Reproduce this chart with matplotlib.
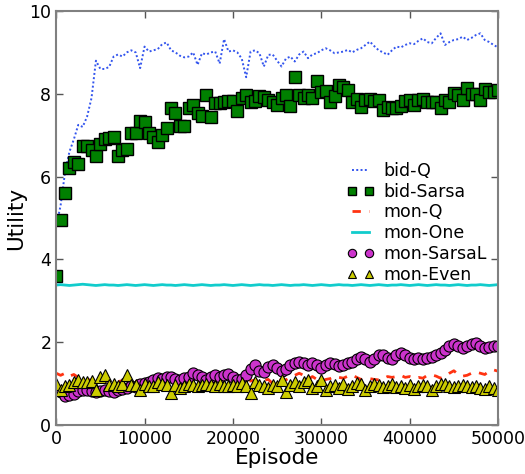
import numpy as np
import matplotlib
matplotlib.use("Agg")
import matplotlib.pyplot as plt

plt.rcParams['font.family'] = ['DejaVu Sans']

episodes = list(range(0, 50001, 500))

bid_q = [4.8, 5.3, 6.1, 6.6, 6.9, 7.25, 7.2, 7.45, 7.9, 8.8,
         8.6, 8.6, 8.65, 8.9, 8.95, 8.9, 9.0, 9.05, 9.0, 8.62,
         9.14, 9.02, 9.05, 9.08, 9.2, 9.24, 9.05, 9.0, 8.92, 8.88,
         8.9, 9.0, 8.7, 8.98, 8.95, 9.0, 9.02, 8.73, 9.32, 9.02,
         9.05, 9.0, 8.85, 8.4, 9.02, 9.05, 8.98, 8.66, 8.94, 8.95,
         8.8, 8.66, 8.85, 8.9, 8.78, 8.95, 9.02, 8.86, 8.95, 8.98,
         9.05, 9.1, 9.05, 8.98, 9.0, 9.02, 9.06, 9.0, 9.06, 9.1,
         9.18, 9.26, 9.15, 9.05, 9.0, 8.94, 9.05, 9.14, 9.12, 9.18,
         9.22, 9.2, 9.28, 9.34, 9.25, 9.22, 9.35, 9.46, 9.18, 9.25,
         9.3, 9.32, 9.38, 9.3, 9.35, 9.42, 9.46, 9.3, 9.25, 9.18, 9.12]

bid_sarsa = [3.6, 4.95, 5.61, 6.2, 6.36, 6.3, 6.74, 6.74, 6.64, 6.5,
             6.79, 6.9, 6.93, 6.96, 6.5, 6.64, 6.67, 7.06, 7.05, 7.35,
             7.32, 7.06, 6.95, 6.84, 7.01, 7.17, 7.66, 7.53, 7.23, 7.23,
             7.65, 7.73, 7.53, 7.47, 7.97, 7.45, 7.78, 7.78, 7.81, 7.83,
             7.83, 7.59, 7.89, 7.97, 7.81, 7.82, 7.95, 7.93, 7.85, 7.81,
             7.72, 7.91, 7.96, 7.71, 8.41, 7.97, 7.91, 7.97, 7.89, 8.32,
             8.05, 8.07, 7.79, 7.95, 8.21, 8.17, 8.09, 7.81, 7.87, 7.69,
             7.85, 7.87, 7.83, 7.85, 7.62, 7.67, 7.66, 7.65, 7.71, 7.82,
             7.85, 7.73, 7.85, 7.87, 7.81, 7.81, 7.79, 7.66, 7.85, 7.79,
             8.03, 7.97, 7.85, 8.15, 7.99, 7.99, 7.86, 8.12, 8.05, 8.05, 8.1]

mon_q = [1.25, 1.2, 1.25, 1.18, 1.22, 1.15, 1.12, 1.1, 1.08, 1.1,
         1.05, 1.07, 1.06, 1.08, 1.05, 1.07, 1.09, 1.06, 1.05, 1.08,
         1.07, 1.05, 1.08, 1.06, 1.09, 1.07, 1.05, 1.08, 1.06, 1.07,
         1.05, 1.08, 1.06, 1.09, 1.07, 1.05, 1.08, 1.06, 1.07, 1.05,
         1.06, 1.05, 1.08, 1.07, 1.06, 1.09, 1.05, 1.08, 1.1, 1.0,
         1.05, 1.1, 1.09, 1.15, 1.2, 1.25, 1.2, 1.1, 1.17, 1.1,
         1.05, 1.1, 1.12, 1.17, 1.15, 1.13, 1.18, 1.21, 1.15, 1.1,
         1.13, 1.12, 1.1, 1.09, 1.12, 1.17, 1.15, 1.17, 1.2, 1.15,
         1.17, 1.13, 1.15, 1.13, 1.2, 1.21, 1.18, 1.13, 1.17, 1.25,
         1.31, 1.22, 1.18, 1.2, 1.25, 1.28, 1.25, 1.22, 1.3, 1.33, 1.3]

mon_one = [3.38, 3.39, 3.38, 3.37, 3.38, 3.39, 3.40, 3.39, 3.38, 3.37,
           3.38, 3.39, 3.38, 3.38, 3.37, 3.38, 3.39, 3.38, 3.37, 3.38,
           3.39, 3.38, 3.37, 3.38, 3.39, 3.38, 3.38, 3.37, 3.38, 3.39,
           3.38, 3.37, 3.38, 3.39, 3.38, 3.37, 3.38, 3.38, 3.39, 3.38,
           3.37, 3.38, 3.39, 3.38, 3.37, 3.38, 3.39, 3.38, 3.38, 3.37,
           3.38, 3.39, 3.38, 3.37, 3.38, 3.38, 3.39, 3.38, 3.37, 3.38,
           3.39, 3.38, 3.37, 3.38, 3.39, 3.38, 3.38, 3.37, 3.38, 3.39,
           3.38, 3.37, 3.38, 3.39, 3.38, 3.37, 3.38, 3.38, 3.39, 3.38,
           3.37, 3.38, 3.39, 3.38, 3.37, 3.38, 3.39, 3.38, 3.38, 3.37,
           3.38, 3.39, 3.38, 3.37, 3.38, 3.38, 3.39, 3.38, 3.37, 3.38, 3.39]

mon_sarsal = [0.85, 0.8, 0.7, 0.72, 0.76, 0.82, 0.85, 0.85, 0.83, 0.8,
              0.82, 0.85, 0.82, 0.8, 0.85, 0.88, 0.9, 0.93, 0.92, 0.98,
              1.02, 1.05, 1.08, 1.13, 1.1, 1.15, 1.17, 1.12, 1.09, 1.13,
              1.17, 1.25, 1.2, 1.15, 1.09, 1.15, 1.2, 1.17, 1.2, 1.23,
              1.15, 1.09, 1.1, 1.2, 1.35, 1.45, 1.3, 1.28, 1.4, 1.45,
              1.38, 1.3, 1.35, 1.45, 1.5, 1.53, 1.5, 1.45, 1.5, 1.45,
              1.38, 1.45, 1.5, 1.48, 1.43, 1.45, 1.5, 1.53, 1.6, 1.65,
              1.6, 1.53, 1.6, 1.69, 1.68, 1.62, 1.6, 1.68, 1.73, 1.68,
              1.62, 1.6, 1.62, 1.6, 1.63, 1.65, 1.7, 1.73, 1.81, 1.9,
              1.95, 1.9, 1.85, 1.9, 1.96, 1.97, 1.9, 1.85, 1.88, 1.91, 1.9]

mon_even = [1.0, 0.85, 0.95, 0.97, 1.05, 1.09, 1.05, 1.05, 1.07, 0.85,
            1.17, 1.2, 0.97, 1.0, 0.93, 1.0, 1.2, 0.97, 0.97, 0.85,
            1.0, 0.93, 0.95, 1.05, 1.0, 0.97, 0.77, 0.97, 0.9, 0.95,
            1.0, 0.97, 0.95, 0.97, 0.98, 0.97, 0.95, 1.0, 0.93, 0.95,
            0.97, 0.95, 1.02, 0.93, 0.78, 1.05, 0.97, 0.93, 0.9, 0.97,
            0.95, 1.08, 0.8, 0.97, 1.05, 0.95, 1.05, 1.08, 0.9, 0.95,
            1.09, 0.85, 0.93, 0.97, 0.9, 1.0, 0.87, 0.95, 1.02, 0.98,
            0.85, 0.95, 1.0, 0.97, 0.92, 0.95, 1.0, 0.92, 0.95, 0.9,
            0.97, 0.88, 0.95, 0.97, 0.93, 0.85, 0.95, 0.98, 1.0, 0.95,
            0.92, 0.95, 0.97, 0.93, 0.92, 0.95, 0.9, 0.88, 0.95, 0.9, 0.85]

xticks = [0, 10000, 20000, 30000, 40000, 50000]
yticks = [0, 2, 4, 6, 8, 10]

fig = plt.figure(figsize=(5.25, 4.74), dpi=100)
ax = fig.add_axes([0.107, 0.1034, 0.8416, 0.8734])

ax.plot(episodes, bid_q, linestyle=(0, (1, 1.2)), color='#3355ee', lw=1.4, label='bid-Q')
ax.plot(episodes, bid_sarsa, linestyle='none', marker='s', ms=8, mfc='#008000',
        mec='black', mew=1.0, label='bid-Sarsa')
ax.plot(episodes, mon_q, linestyle=(0, (3, 3)), color='#ff3311', lw=2.0, label='mon-Q')
ax.plot(episodes, mon_one, linestyle='-', color='#11cccc', lw=2.0, label='mon-One')
ax.plot(episodes, mon_sarsal, linestyle='none', marker='o', ms=8, mfc='#cc33cc',
        mec='black', mew=0.8, label='mon-SarsaL')
ax.plot(episodes, mon_even, linestyle='none', marker='^', ms=8.5, mfc='#cccc00',
        mec='black', mew=0.8, label='mon-Even')

ax.set_xlim(0, 50000)
ax.set_ylim(0, 10)
ax.set_xticks(xticks)
ax.set_yticks(yticks)
ax.tick_params(direction='in', top=True, right=True, length=5, width=1,
               color='#555555', labelsize=12.5)
for sp in ax.spines.values():
    sp.set_color('#808080')
    sp.set_linewidth(1.5)

ax.set_xlabel('Episode', fontsize=15.5, labelpad=0)
ax.set_ylabel('Utility', fontsize=15.5, labelpad=2)

ax.legend(loc='upper left', bbox_to_anchor=(0.63, 0.665), frameon=False,
          fontsize=12.5, numpoints=2, markerscale=0.75, handlelength=1.6,
          handletextpad=0.5, labelspacing=0.16, borderpad=0.2)

fig.savefig('out.png', dpi=100)
